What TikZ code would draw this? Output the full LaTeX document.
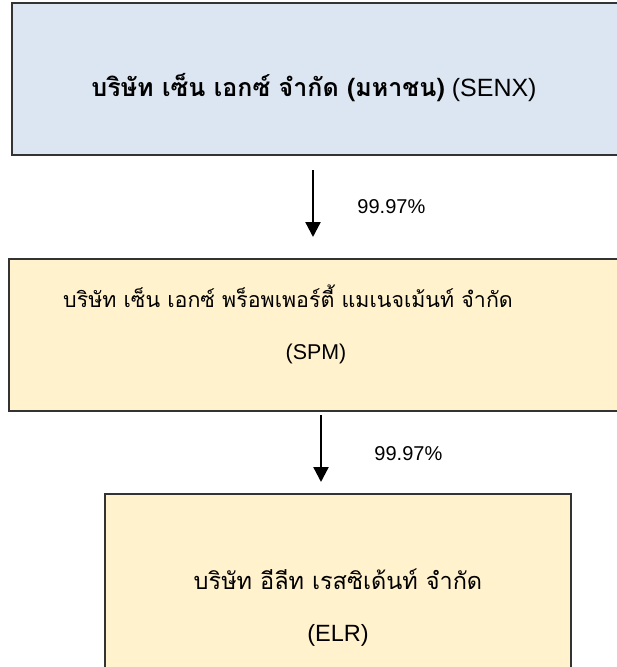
\documentclass[tikz,border=0pt]{standalone}
\usepackage{fontspec}
\setmainfont{Liberation Sans}
\newfontfamily\thaifont[Script=Thai]{Loma}
\usepackage{tikz}
\usetikzlibrary{arrows.meta,positioning}

\definecolor{parentblue}{HTML}{DCE6F2}
\definecolor{subyellow}{HTML}{FFF2CC}

\begin{document}
\begin{tikzpicture}[x=1pt,y=-1pt]
  \tikzstyle{company}=[draw=black!80,line width=1.5pt,align=center,inner sep=0pt]
  \tikzstyle{link}=[line width=2.3pt,-{Triangle[length=15pt,width=15pt]}]
  \tikzstyle{pct}=[font=\fontsize{20}{24}\selectfont]
  \useasboundingbox (0,0) rectangle (617,667);
  \clip (0,0) rectangle (617,667);
  % holding company
  \node[company,fill=parentblue,minimum width=630pt,minimum height=152pt,
        font=\fontsize{25}{30}\selectfont,text height=34pt,text depth=0pt]
       (senx) at (327,79)
       {{\thaifont\bfseries บริษัท เซ็น เอกซ์ จำกัด (มหาชน)} (SENX)\makebox[26pt]{}};
  % subsidiaries
  \node[company,fill=subyellow,minimum width=614pt,minimum height=152pt,
        font=\fontsize{21.4}{52}\selectfont,text depth=25pt]
       (spm) at (316,335)
       {{\thaifont บริษัท เซ็น เอกซ์ พร็อพเพอร์ตี้ แมเนจเม้นท์ จำกัด}\makebox[56pt]{}\\(SPM)};
  \node[company,fill=subyellow,minimum width=466pt,minimum height=228pt,
        font=\fontsize{23.5}{52}\selectfont]
       (elr) at (338,608)
       {{\thaifont บริษัท อีลีท เรสซิเด้นท์ จำกัด}\\(ELR)};
  % shareholding arrows
  \coordinate (senx out) at (313,170);
  \coordinate (spm in) at (313,237);
  \coordinate (spm out) at (321,415);
  \coordinate (elr in) at (321,482);
  \draw[link] (senx out) -- (spm in) node[pct,midway,right=40pt,yshift=-3pt] {99.97\%};
  \draw[link] (spm out) -- (elr in) node[pct,midway,right=49pt,yshift=-5pt] {99.97\%};
\end{tikzpicture}
\end{document}
